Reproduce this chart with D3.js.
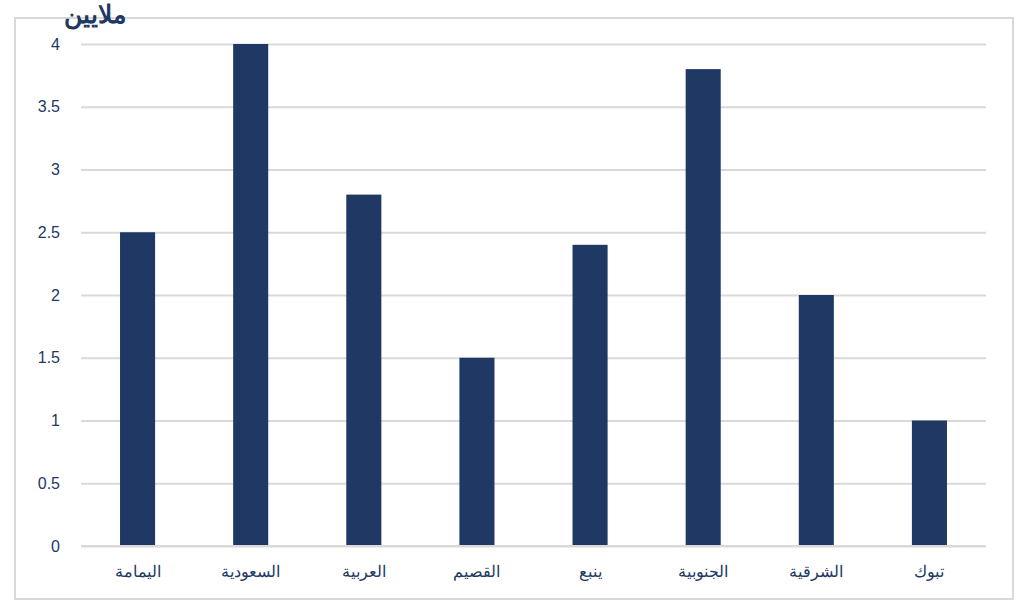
<!DOCTYPE html>
<html>
<head>
<meta charset="utf-8">
<script src="https://cdn.jsdelivr.net/npm/d3@7"></script>
<style>
  body { margin: 0; background: #fff; }
  svg { display: block; font-family: "Liberation Sans", Arial, sans-serif; }
</style>
</head>
<body>
<svg id="chart" width="1021" height="610"></svg>
<script>
// chart data
var regions = ['اليمامة', 'السعودية', 'العربية', 'القصيم', 'ينبع', 'الجنوبية', 'الشرقية', 'تبوك'];
var values = [2.5, 4, 2.8, 1.5, 2.4, 3.8, 2.0, 1.0];
var yTicks = [0, 0.5, 1, 1.5, 2, 2.5, 3, 3.5, 4];
var unitLabel = 'ملايين';

var svg = d3.select('#chart');
var navy = '#203864';
var grid = '#d9d9d9';

// outer frame
svg.append('rect')
  .attr('x', 15).attr('y', 18)
  .attr('width', 998).attr('height', 581)
  .attr('fill', 'none')
  .attr('stroke', grid)
  .attr('stroke-width', 2);

var x = d3.scaleBand().domain(regions).range([81, 986]).paddingInner(0.69).paddingOuter(0.345);
var y = d3.scaleLinear().domain([0, 4]).range([546, 44]);

// gridlines + y labels
var yAxis = d3.axisLeft(y).tickValues(yTicks).tickSize(-(986 - 81)).tickPadding(21)
  .tickFormat(function(d) { return d; });
var ga = svg.append('g').attr('transform', 'translate(81,0)').call(yAxis);
ga.select('.domain').remove();
ga.selectAll('.tick line').attr('stroke', grid).attr('stroke-width', 2);
ga.selectAll('.tick text').attr('fill', navy).style('font-size', '16px')
  .style('font-family', '"Liberation Sans", Arial, sans-serif');

// bars
svg.selectAll('rect.bar').data(values)
  .enter()
  .append('rect')
  .attr('class', 'bar')
  .attr('x', function(d, i) { return x(regions[i]); })
  .attr('width', x.bandwidth())
  .attr('y', function(d) { return y(d); })
  .attr('height', function(d) { return y(0) - y(d); })
  .attr('fill', navy);

// category labels
var xAxis = d3.axisBottom(x).tickSize(0).tickPadding(20);
var gx = svg.append('g').attr('transform', 'translate(0,' + y(0) + ')').call(xAxis);
gx.select('.domain').remove();
gx.selectAll('.tick text').attr('fill', navy).style('font-size', '16px')
  .style('font-family', '"Liberation Sans", Arial, sans-serif')
  .attr('direction', 'rtl');

// axis baseline redrawn over bars' bottom
svg.append('line')
  .attr('x1', 81).attr('x2', 986)
  .attr('y1', y(0)).attr('y2', y(0))
  .attr('stroke', grid).attr('stroke-width', 2);

// unit title
svg.append('text')
  .attr('x', 95).attr('y', 23)
  .attr('text-anchor', 'middle')
  .attr('direction', 'rtl')
  .attr('fill', navy)
  .style('font-size', '25px')
  .style('font-weight', 'bold')
  .text(unitLabel);
</script>
</body>
</html>
